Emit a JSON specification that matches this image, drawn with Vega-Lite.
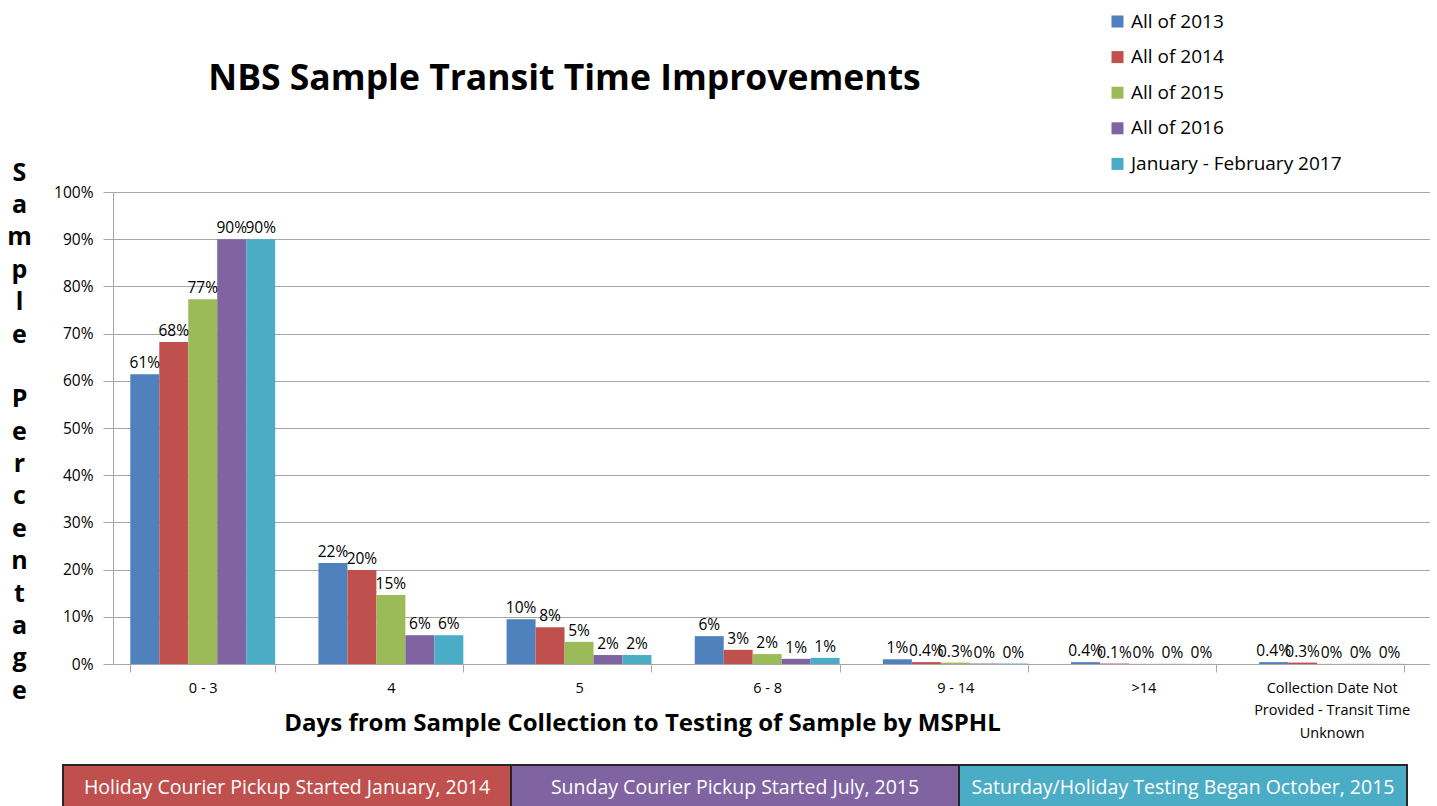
{
  "$schema": "https://vega.github.io/schema/vega-lite/v6.json",
  "background": "white",
  "padding": {"left": 6, "top": 12, "right": 0, "bottom": 0},
  "config": {
    "font": "Open Sans",
    "view": {"stroke": null},
    "title": {"font": "Open Sans", "color": "black"},
    "axis": {"labelFont": "Open Sans", "titleFont": "Open Sans", "labelColor": "black", "titleColor": "black"},
    "legend": {"labelFont": "Open Sans"}
  },
  "vconcat": [
    {
      "width": 1317,
      "height": 472,
      "title": {"text": "NBS Sample Transit Time Improvements", "fontSize": 35.5, "fontWeight": "bold", "anchor": "middle", "dx": -207, "offset": 63},
      "data": {"values": [
        {"days": "0 - 3", "period": "All of 2013", "share": 0.614, "label": "61%"},
        {"days": "0 - 3", "period": "All of 2014", "share": 0.682, "label": "68%"},
        {"days": "0 - 3", "period": "All of 2015", "share": 0.773, "label": "77%"},
        {"days": "0 - 3", "period": "All of 2016", "share": 0.900, "label": "90%"},
        {"days": "0 - 3", "period": "January - February 2017", "share": 0.900, "label": "90%"},
        {"days": "4", "period": "All of 2013", "share": 0.214, "label": "22%"},
        {"days": "4", "period": "All of 2014", "share": 0.199, "label": "20%"},
        {"days": "4", "period": "All of 2015", "share": 0.146, "label": "15%"},
        {"days": "4", "period": "All of 2016", "share": 0.061, "label": "6%"},
        {"days": "4", "period": "January - February 2017", "share": 0.061, "label": "6%"},
        {"days": "5", "period": "All of 2013", "share": 0.095, "label": "10%"},
        {"days": "5", "period": "All of 2014", "share": 0.078, "label": "8%"},
        {"days": "5", "period": "All of 2015", "share": 0.047, "label": "5%"},
        {"days": "5", "period": "All of 2016", "share": 0.019, "label": "2%"},
        {"days": "5", "period": "January - February 2017", "share": 0.019, "label": "2%"},
        {"days": "6 - 8", "period": "All of 2013", "share": 0.059, "label": "6%"},
        {"days": "6 - 8", "period": "All of 2014", "share": 0.030, "label": "3%"},
        {"days": "6 - 8", "period": "All of 2015", "share": 0.021, "label": "2%"},
        {"days": "6 - 8", "period": "All of 2016", "share": 0.011, "label": "1%"},
        {"days": "6 - 8", "period": "January - February 2017", "share": 0.013, "label": "1%"},
        {"days": "9 - 14", "period": "All of 2013", "share": 0.010, "label": "1%"},
        {"days": "9 - 14", "period": "All of 2014", "share": 0.004, "label": "0.4%"},
        {"days": "9 - 14", "period": "All of 2015", "share": 0.003, "label": "0.3%"},
        {"days": "9 - 14", "period": "All of 2016", "share": 0.001, "label": "0%"},
        {"days": "9 - 14", "period": "January - February 2017", "share": 0.001, "label": "0%"},
        {"days": ">14", "period": "All of 2013", "share": 0.004, "label": "0.4%"},
        {"days": ">14", "period": "All of 2014", "share": 0.001, "label": "0.1%"},
        {"days": ">14", "period": "All of 2015", "share": 0.0004, "label": "0%"},
        {"days": ">14", "period": "All of 2016", "share": 0.0003, "label": "0%"},
        {"days": ">14", "period": "January - February 2017", "share": 0.0002, "label": "0%"},
        {"days": "Collection Date Not Provided - Transit Time Unknown", "period": "All of 2013", "share": 0.004, "label": "0.4%"},
        {"days": "Collection Date Not Provided - Transit Time Unknown", "period": "All of 2014", "share": 0.003, "label": "0.3%"},
        {"days": "Collection Date Not Provided - Transit Time Unknown", "period": "All of 2015", "share": 0.0003, "label": "0%"},
        {"days": "Collection Date Not Provided - Transit Time Unknown", "period": "All of 2016", "share": 0.0003, "label": "0%"},
        {"days": "Collection Date Not Provided - Transit Time Unknown", "period": "January - February 2017", "share": 0.0003, "label": "0%"}
      ]},
      "encoding": {
        "x": {
          "field": "days", "type": "nominal",
          "sort": ["0 - 3", "4", "5", "6 - 8", "9 - 14", ">14", "Collection Date Not Provided - Transit Time Unknown"],
          "scale": {"paddingInner": 0.23, "paddingOuter": 0.115, "align": 0.4},
          "axis": {
            "title": "Days from Sample Collection to Testing of Sample by MSPHL",
            "titleFontSize": 24, "titleFontWeight": "bold",
            "titleX": 529, "titleY": 59, "titleBaseline": "middle", "titleAlign": "center",
            "labelAngle": 0, "labelFontSize": 14.5, "labelPadding": 9, "labelLimit": 400,
            "labelLineHeight": 22.5, "labelBaseline": "top",
            "labelExpr": "datum.label == 'Collection Date Not Provided - Transit Time Unknown' ? ['Collection Date Not', 'Provided - Transit Time', 'Unknown'] : datum.label",
            "tickSize": 8, "tickBand": "extent",
            "domainColor": "#a6a6a6", "tickColor": "#a6a6a6", "grid": false
          }
        },
        "xOffset": {
          "field": "period", "type": "nominal",
          "sort": ["All of 2013", "All of 2014", "All of 2015", "All of 2016", "January - February 2017"],
          "scale": {"paddingInner": 0, "paddingOuter": 0}
        },
        "y": {
          "field": "share", "type": "quantitative",
          "scale": {"domain": [0, 1], "nice": false},
          "axis": {
            "title": ["S", "a", "m", "p", "l", "e", "\u2800", "P", "e", "r", "c", "e", "n", "t", "a", "g", "e"],
            "titleAngle": 0, "titleFontSize": 25, "titleFontWeight": "bold", "titleLineHeight": 32.4,
            "titleX": -94, "titleY": -32, "titleAlign": "center", "titleBaseline": "top",
            "format": ".0%", "values": [0, 0.1, 0.2, 0.3, 0.4, 0.5, 0.6, 0.7, 0.8, 0.9, 1],
            "labelFontSize": 15.5, "tickSize": 10, "labelPadding": 10,
            "grid": true, "gridColor": "#a6a6a6", "domainColor": "#a6a6a6", "tickColor": "#a6a6a6"
          }
        }
      },
      "layer": [
        {
          "mark": {"type": "bar"},
          "encoding": {
            "color": {
              "field": "period", "type": "nominal",
              "scale": {
                "domain": ["All of 2013", "All of 2014", "All of 2015", "All of 2016", "January - February 2017"],
                "range": ["#4F81BD", "#C0504D", "#9BBB59", "#8064A2", "#4BACC6"]
              },
              "legend": {
                "orient": "none", "legendX": 995, "legendY": -180, "title": null,
                "symbolType": "square", "symbolSize": 144, "symbolStrokeWidth": 0,
                "labelFontSize": 19, "labelColor": "black", "labelLimit": 0, "rowPadding": 15.6, "padding": 0, "labelOffset": 4
              }
            }
          }
        },
        {
          "mark": {"type": "text", "baseline": "bottom", "dy": -3, "fontSize": 15.5, "color": "black"},
          "encoding": {"text": {"field": "label"}}
        }
      ]
    },
    {
      "width": 1317,
      "height": 46,
      "data": {"values": [
        {"event": "Holiday Courier Pickup Started January, 2014", "order": 1},
        {"event": "Sunday Courier Pickup Started July, 2015", "order": 2},
        {"event": "Saturday/Holiday Testing Began October, 2015", "order": 3}
      ]},
      "encoding": {
        "x": {"field": "event", "type": "nominal", "sort": {"field": "order"}, "axis": null,
              "scale": {"paddingInner": 0, "paddingOuter": 0, "range": [-50, 1294]}}
      },
      "layer": [
        {
          "mark": {"type": "rect", "stroke": "#262626", "strokeWidth": 2},
          "encoding": {
            "fill": {"field": "event", "type": "nominal", "sort": {"field": "order"},
                     "scale": {"range": ["#C0504D", "#8064A2", "#4BACC6"]}, "legend": null}
          }
        },
        {
          "mark": {"type": "text", "color": "white", "fontSize": 19.5, "baseline": "middle"},
          "encoding": {"text": {"field": "event"}}
        }
      ]
    }
  ],
  "spacing": 24
}
